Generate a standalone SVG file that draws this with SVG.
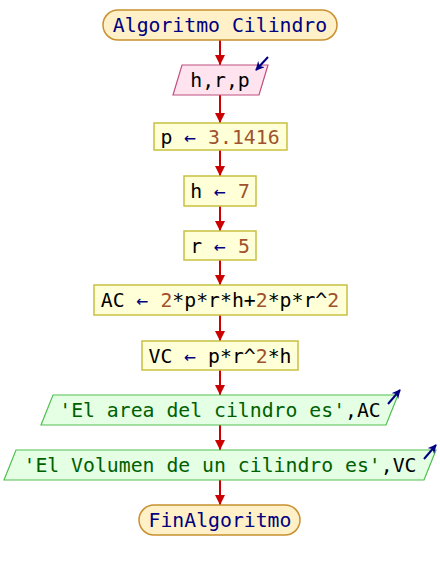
<svg xmlns="http://www.w3.org/2000/svg" width="440" height="570" viewBox="0 0 440 570">
<defs>
<marker id="ah" viewBox="0 0 10 10" refX="10" refY="5" markerWidth="10" markerHeight="10" markerUnits="userSpaceOnUse" orient="auto"><path d="M0,0 L10,5 L0,10 z" fill="#cc0000"/></marker>
<marker id="io" viewBox="0 0 10 10" refX="9" refY="5" markerWidth="9" markerHeight="9" markerUnits="userSpaceOnUse" orient="auto"><path d="M0,0 L10,5 L0,10 L3,5 z" fill="#000080"/></marker>
</defs>
<style>
text{font-family:"DejaVu Sans Mono",monospace;font-size:19.8px;text-anchor:middle;fill:#000}
.term{fill:#fff0c8;stroke:#c8902e;stroke-width:1.5}
.inp{fill:#ffe4f0;stroke:#c05080;stroke-width:1.2}
.proc{fill:#ffffd8;stroke:#c8c040;stroke-width:1.5}
.out{fill:#e4ffe4;stroke:#50c050;stroke-width:1.2}
.kw{fill:#000080}
.num{fill:#a0522d}
.op{fill:#000080}
.str{fill:#006000}
.conn{stroke:#cc0000;stroke-width:2;fill:none;marker-end:url(#ah)}
.ioa{stroke:#000080;stroke-width:2;fill:none;marker-end:url(#io)}
</style>
<g id="connectors">
<line class="conn" x1="220" y1="40" x2="220" y2="65"/>
<line class="conn" x1="220" y1="95" x2="220" y2="123"/>
<line class="conn" x1="220" y1="150" x2="220" y2="176"/>
<line class="conn" x1="220" y1="206" x2="220" y2="231"/>
<line class="conn" x1="220" y1="260" x2="220" y2="285"/>
<line class="conn" x1="220" y1="315" x2="220" y2="341"/>
<line class="conn" x1="220" y1="370" x2="220" y2="395"/>
<line class="conn" x1="220" y1="425" x2="220" y2="450"/>
<line class="conn" x1="220" y1="480" x2="220" y2="505"/>
</g>
<g id="start">
<rect class="term" x="103" y="10" width="234" height="30" rx="15" ry="15"/>
<text x="220" y="32" class="kw">Algoritmo Cilindro</text>
</g>
<g id="input">
<polygon class="inp" points="182,65 268,65 259,95 173,95"/>
<text x="220" y="87">h,r,p</text>
<line class="ioa" x1="268" y1="57" x2="256" y2="70"/>
</g>
<g id="assign_p">
<rect class="proc" x="154" y="123" width="133" height="27"/>
<text x="220" y="144">p <tspan class="op">←</tspan> <tspan class="num">3.1416</tspan></text>
</g>
<g id="assign_h">
<rect class="proc" x="184" y="176" width="72" height="30"/>
<text x="220" y="198">h <tspan class="op">←</tspan> <tspan class="num">7</tspan></text>
</g>
<g id="assign_r">
<rect class="proc" x="184" y="231" width="72" height="29"/>
<text x="220" y="253">r <tspan class="op">←</tspan> <tspan class="num">5</tspan></text>
</g>
<g id="assign_ac">
<rect class="proc" x="94" y="285" width="253" height="30"/>
<text x="220" y="307">AC <tspan class="op">←</tspan> <tspan class="num">2</tspan>*p*r*h+<tspan class="num">2</tspan>*p*r^<tspan class="num">2</tspan></text>
</g>
<g id="assign_vc">
<rect class="proc" x="142" y="341" width="156" height="29"/>
<text x="220" y="363">VC <tspan class="op">←</tspan> p*r^<tspan class="num">2</tspan>*h</text>
</g>
<g id="output1">
<polygon class="out" points="53,395 398,395 386,425 41,425"/>
<text x="220" y="417"><tspan class="str">'El area del cilndro es'</tspan>,AC</text>
<line class="ioa" x1="388" y1="404" x2="400" y2="390"/>
</g>
<g id="output2">
<polygon class="out" points="16,450 436,450 424,480 4,480"/>
<text x="220" y="472"><tspan class="str">'El Volumen de un cilindro es'</tspan>,VC</text>
<line class="ioa" x1="424" y1="459" x2="436" y2="445"/>
</g>
<g id="end">
<rect class="term" x="139" y="505" width="161" height="30" rx="15" ry="15"/>
<text x="220" y="527" class="kw">FinAlgoritmo</text>
</g>
</svg>
